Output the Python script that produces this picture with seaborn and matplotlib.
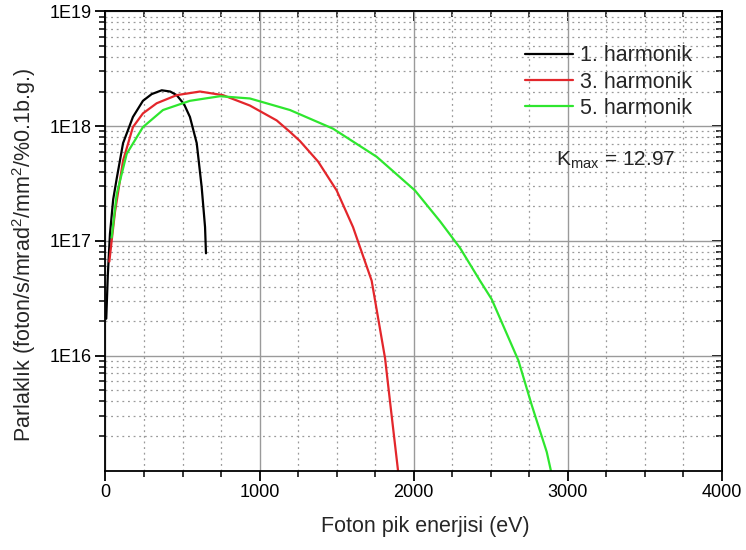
import numpy as np
import pandas as pd
import matplotlib
matplotlib.use("Agg")
import matplotlib.pyplot as plt
import matplotlib.ticker as mticker
import seaborn as sns

# ---- data ----
e1 = [5, 15, 29, 50, 73, 114, 178, 243, 300, 365, 420, 462, 510, 548, 592, 624, 646, 652]
b1 = [2.1e16, 5.0e16, 1.15e17, 2.3e17, 3.5e17, 7.1e17, 1.2e18, 1.66e18, 1.9e18, 2.05e18,
      2.0e18, 1.86e18, 1.55e18, 1.2e18, 7.1e17, 2.95e17, 1.32e17, 7.8e16]

e3 = [25, 40, 62, 114, 178, 243, 332, 462, 613, 762, 937, 1111, 1197, 1262, 1380, 1500,
      1606, 1727, 1814, 1846, 1900]
b3 = [6.6e16, 1.0e17, 1.8e17, 5.0e17, 9.8e17, 1.29e18, 1.58e18, 1.86e18, 2.0e18, 1.86e18,
      1.51e18, 1.12e18, 8.9e17, 7.4e17, 4.9e17, 2.75e17, 1.32e17, 4.5e16, 9.5e15,
      4.0e15, 9.5e14]

e5 = [40, 73, 138, 243, 373, 548, 743, 937, 1197, 1476, 1760, 2008, 2171, 2300, 2430,
      2506, 2679, 2766, 2863, 2895]
b5 = [1.07e17, 2.57e17, 5.75e17, 9.8e17, 1.38e18, 1.66e18, 1.82e18, 1.74e18, 1.38e18,
      9.5e17, 5.4e17, 2.75e17, 1.48e17, 8.7e16, 4.5e16, 3.1e16, 9.1e15, 3.7e15,
      1.45e15, 9.3e14]

series_names = ["1. harmonik", "3. harmonik", "5. harmonik"]
series_colors = ["#000000", "#e3262b", "#2ee62e"]

xticks = [0, 1000, 2000, 3000, 4000]
yticks = [1e16, 1e17, 1e18, 1e19]
ytick_labels = ["1E16", "1E17", "1E18", "1E19"]

df = pd.concat([
    pd.DataFrame({"E": e1, "B": b1, "seri": series_names[0]}),
    pd.DataFrame({"E": e3, "B": b3, "seri": series_names[1]}),
    pd.DataFrame({"E": e5, "B": b5, "seri": series_names[2]}),
], ignore_index=True)

sns.set_style("ticks")
plt.rcParams["font.family"] = ["Liberation Sans", "DejaVu Sans"]
plt.rcParams["mathtext.fontset"] = "custom"
plt.rcParams["mathtext.rm"] = "Liberation Sans"
plt.rcParams["mathtext.it"] = "Liberation Sans"

fig = plt.figure(figsize=(7.46, 5.5), dpi=100)
ax = fig.add_axes([0.1414, 0.1445, 0.8264, 0.835])

sns.lineplot(data=df, x="E", y="B", hue="seri", palette=series_colors,
             sort=False, estimator=None, linewidth=1.6, ax=ax)

ax.set_yscale("log")
ax.set_xlim(0, 4000)
ax.set_ylim(1e15, 1e19)

ax.set_xticks(xticks)
ax.xaxis.set_minor_locator(mticker.MultipleLocator(250))
ax.yaxis.set_major_locator(mticker.FixedLocator(yticks))
ax.yaxis.set_major_formatter(mticker.FixedFormatter(ytick_labels))
ax.yaxis.set_minor_locator(mticker.LogLocator(base=10, subs=np.arange(2, 10)))
ax.yaxis.set_minor_formatter(mticker.NullFormatter())

ax.grid(True, which="major", color="#9a9a9a", linewidth=1.0, linestyle="-")
ax.grid(True, which="minor", color="#9a9a9a", linewidth=0.9, linestyle=(0, (1.5, 3)))
ax.set_axisbelow(True)

for s in ax.spines.values():
    s.set_visible(True)
    s.set_color("black")
    s.set_linewidth(1.3)

ax.tick_params(axis="both", which="major", direction="out", length=7, width=1.3,
               labelsize=13, colors="black", pad=3, bottom=True, left=True)
ax.tick_params(axis="both", which="minor", direction="out", length=4, width=1.1,
               colors="black", bottom=True, left=True)
# ticks on top/right pointing inward
axt = ax.secondary_xaxis("top")
axt.set_xticks(xticks)
axt.xaxis.set_minor_locator(mticker.MultipleLocator(250))
axt.tick_params(which="major", direction="in", length=7, width=1.3, labeltop=False,
                top=True, colors="black")
axt.tick_params(which="minor", direction="in", length=4, width=1.1, top=True, colors="black")
axr = ax.secondary_yaxis("right")
axr.yaxis.set_major_locator(mticker.FixedLocator(yticks))
axr.yaxis.set_minor_locator(mticker.LogLocator(base=10, subs=np.arange(2, 10)))
axr.yaxis.set_major_formatter(mticker.NullFormatter())
axr.yaxis.set_minor_formatter(mticker.NullFormatter())
axr.tick_params(which="major", direction="in", length=7, width=1.3, right=True, colors="black")
axr.tick_params(which="minor", direction="in", length=4, width=1.1, right=True, colors="black")
for sax in (axt, axr):
    for s in sax.spines.values():
        s.set_linewidth(1.3)

ax.set_xlabel("Foton pik enerjisi (eV)", fontsize=15.5)
ax.set_ylabel("Parlaklık (foton/s/mrad$^{2}$/mm$^{2}$/%0.1b.g.)", fontsize=15.5)
ax.xaxis.set_label_coords(0.518, -0.1)
ax.yaxis.set_label_coords(-0.110, 0.47)

leg = ax.legend(loc="upper left", bbox_to_anchor=(0.681, 0.926), frameon=False,
                fontsize=15.5, handlelength=2.2, handletextpad=0.35, labelspacing=0.25,
                borderpad=0, borderaxespad=0, title=None)

ax.text(0.73, 0.676, r"K$_{\mathrm{max}}$ = 12.97", transform=ax.transAxes,
        fontsize=15, ha="left", va="center")

fig.savefig("out.png", dpi=100)
